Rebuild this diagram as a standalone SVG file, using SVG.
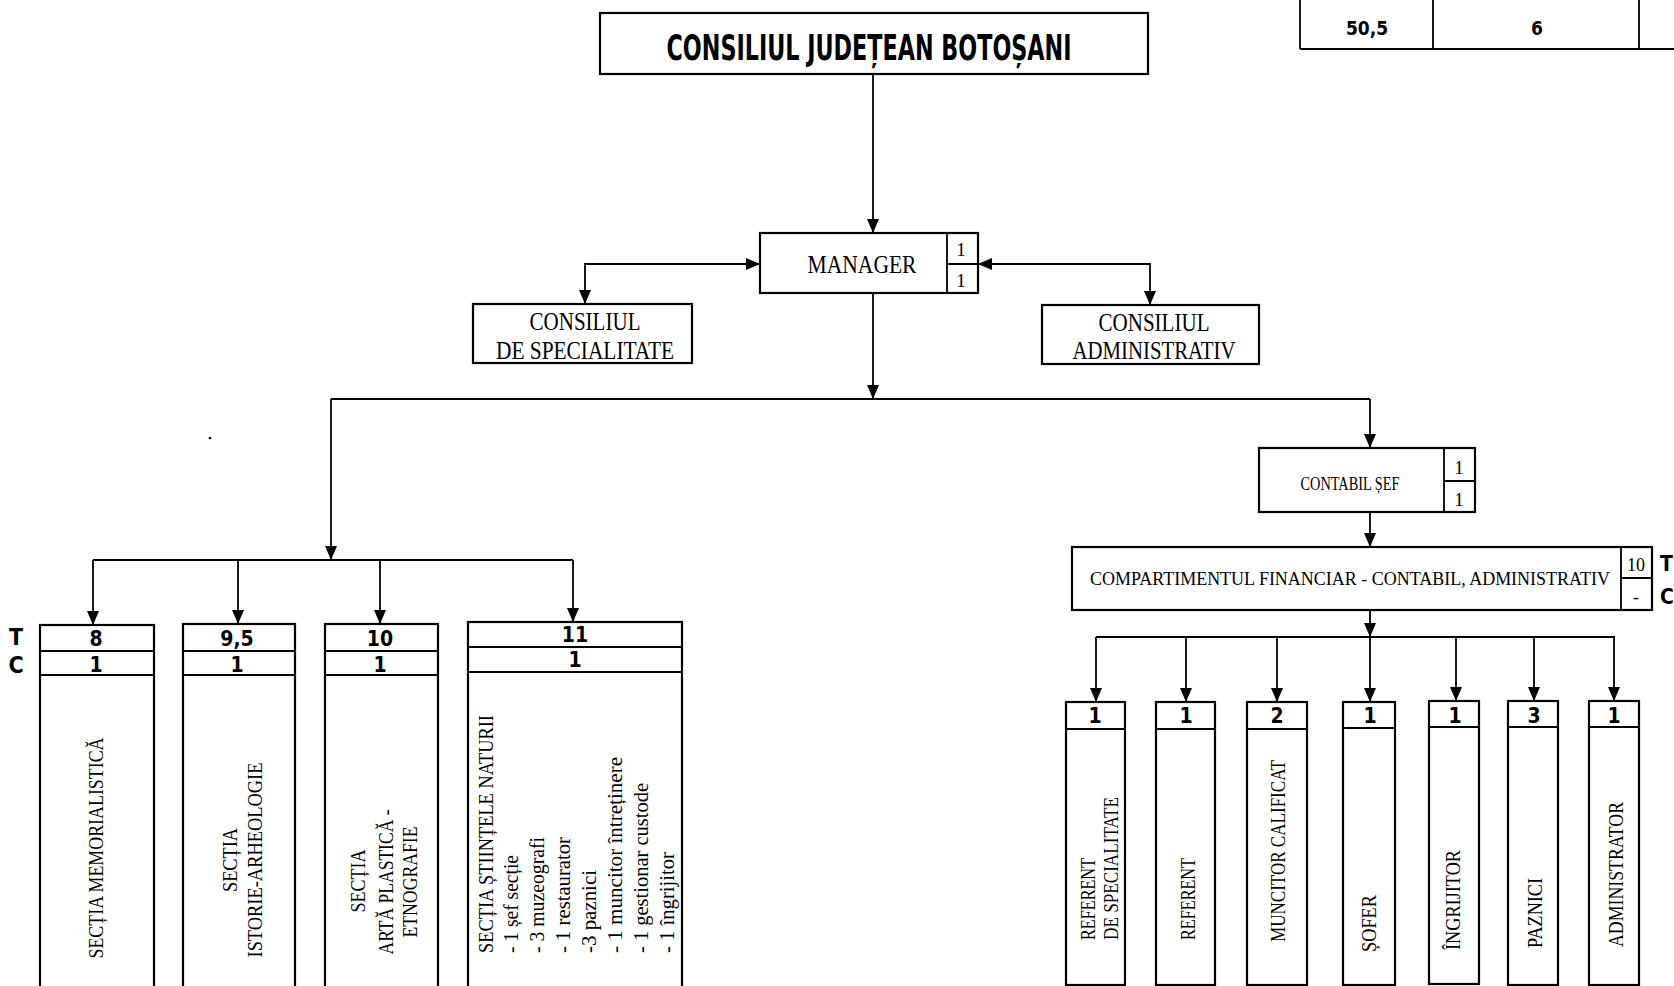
<svg xmlns="http://www.w3.org/2000/svg" width="1674" height="986" viewBox="0 0 1674 986">
<style>
.box{fill:#fff;stroke:#000;stroke-width:2.2}
.ln{fill:none;stroke:#000;stroke-width:1.8}
.cn{fill:none;stroke:#000;stroke-width:1.8}
.b{font-family:"Liberation Sans Narrow","DejaVu Sans Condensed","Liberation Sans",sans-serif;font-weight:bold;fill:#000}
.s{font-family:"Liberation Serif","DejaVu Serif",serif;fill:#000}
</style>
<defs>
<marker id="ah" viewBox="0 0 14 12" refX="14" refY="6" markerWidth="14" markerHeight="12" markerUnits="userSpaceOnUse" orient="auto-start-reverse">
<path d="M0,0 L14,6 L0,12 z" fill="#000"/>
</marker>
</defs>
<rect width="1674" height="986" fill="#fff"/>

<g id="table-top">
<path class="ln" d="M1300,0 V49 M1433,0 V49 M1639,0 V49 M1300,49 H1674"/>
<text class="b" x="1367" y="35" font-size="19" text-anchor="middle">50,5</text>
<text class="b" x="1537" y="35" font-size="19" text-anchor="middle">6</text>
</g>

<g id="consiliul-judetean">
<rect class="box" x="600" y="13" width="548" height="61" stroke-width="2.6"/>
<text class="b" x="869" y="60" font-size="36" text-anchor="middle" textLength="405" lengthAdjust="spacingAndGlyphs">CONSILIUL JUDEȚEAN BOTOȘANI</text>
</g>

<g id="manager">
<rect class="box" x="760" y="233" width="218" height="60"/>
<path class="ln" d="M947,233 V293 M947,264 H978"/>
<text class="s" x="862" y="273" font-size="26" text-anchor="middle" textLength="109" lengthAdjust="spacingAndGlyphs">MANAGER</text>
<text class="s" x="961" y="256" font-size="19" text-anchor="middle">1</text>
<text class="s" x="961" y="287" font-size="19" text-anchor="middle">1</text>
</g>

<g id="consiliul-specialitate">
<rect class="box" x="473" y="304" width="219" height="59"/>
<text class="s" x="585" y="330" font-size="25" text-anchor="middle" textLength="111" lengthAdjust="spacingAndGlyphs">CONSILIUL</text>
<text class="s" x="585" y="359" font-size="25" text-anchor="middle" textLength="178" lengthAdjust="spacingAndGlyphs">DE SPECIALITATE</text>
</g>

<g id="consiliul-administrativ">
<rect class="box" x="1042" y="305" width="217" height="59"/>
<text class="s" x="1154" y="331" font-size="25" text-anchor="middle" textLength="111" lengthAdjust="spacingAndGlyphs">CONSILIUL</text>
<text class="s" x="1154" y="359" font-size="25" text-anchor="middle" textLength="163" lengthAdjust="spacingAndGlyphs">ADMINISTRATIV</text>
</g>

<g id="contabil-sef">
<rect class="box" x="1259" y="448" width="216" height="64"/>
<path class="ln" d="M1444,448 V512 M1444,481 H1475"/>
<text class="s" x="1350" y="490" font-size="19" text-anchor="middle" textLength="99" lengthAdjust="spacingAndGlyphs">CONTABIL ȘEF</text>
<text class="s" x="1459" y="474" font-size="19" text-anchor="middle">1</text>
<text class="s" x="1459" y="506" font-size="19" text-anchor="middle">1</text>
</g>

<g id="compartiment">
<rect class="box" x="1072" y="547" width="580" height="63"/>
<path class="ln" d="M1621,547 V610 M1621,578 H1652"/>
<text class="s" x="1350" y="585" font-size="19" text-anchor="middle" textLength="520" lengthAdjust="spacingAndGlyphs">COMPARTIMENTUL FINANCIAR - CONTABIL, ADMINISTRATIV</text>
<text class="s" x="1636" y="571" font-size="18" text-anchor="middle">10</text>
<text class="s" x="1636" y="603" font-size="18" text-anchor="middle">-</text>
<text class="b" x="1660" y="571" font-size="21">T</text>
<text class="b" x="1660" y="604" font-size="21">C</text>
</g>

<g id="legend-tc">
<text class="b" x="16" y="645" font-size="23" text-anchor="middle">T</text>
<text class="b" x="16" y="673" font-size="23" text-anchor="middle">C</text>
</g>

<g id="sectia-memorialistica">
<rect class="box" x="40" y="625" width="114" height="370"/>
<path class="ln" d="M40,651 H154 M40,675 H154"/>
<text class="b" x="96" y="646" font-size="21" text-anchor="middle">8</text>
<text class="b" x="96" y="672" font-size="21" text-anchor="middle">1</text>
<text class="s" font-size="20" text-anchor="middle" transform="translate(103 848) rotate(-90)" textLength="221" lengthAdjust="spacingAndGlyphs">SECȚIA MEMORIALISTICĂ</text>
</g>

<g id="sectia-istorie">
<rect class="box" x="183" y="624" width="112" height="371"/>
<path class="ln" d="M183,651 H295 M183,675 H295"/>
<text class="b" x="237" y="646" font-size="21" text-anchor="middle">9,5</text>
<text class="b" x="237" y="672" font-size="21" text-anchor="middle">1</text>
<text class="s" font-size="20" text-anchor="middle" transform="translate(237 860) rotate(-90)" textLength="64" lengthAdjust="spacingAndGlyphs">SECȚIA</text>
<text class="s" font-size="20" text-anchor="middle" transform="translate(262 860) rotate(-90)" textLength="195" lengthAdjust="spacingAndGlyphs">ISTORIE-ARHEOLOGIE</text>
</g>

<g id="sectia-arta">
<rect class="box" x="325" y="624" width="113" height="371"/>
<path class="ln" d="M325,651 H438 M325,675 H438"/>
<text class="b" x="380" y="646" font-size="21" text-anchor="middle">10</text>
<text class="b" x="380" y="672" font-size="21" text-anchor="middle">1</text>
<text class="s" font-size="20" text-anchor="middle" transform="translate(365 881) rotate(-90)" textLength="63" lengthAdjust="spacingAndGlyphs">SECȚIA</text>
<text class="s" font-size="20" text-anchor="middle" transform="translate(393 882) rotate(-90)" textLength="145" lengthAdjust="spacingAndGlyphs">ARTĂ PLASTICĂ -</text>
<text class="s" font-size="20" text-anchor="middle" transform="translate(417 882) rotate(-90)" textLength="111" lengthAdjust="spacingAndGlyphs">ETNOGRAFIE</text>
</g>

<g id="sectia-stiinte">
<rect class="box" x="468" y="622" width="214" height="373" stroke-width="2.6"/>
<path class="ln" d="M468,647 H682 M468,672 H682"/>
<text class="b" x="575" y="642" font-size="21" text-anchor="middle">11</text>
<text class="b" x="575" y="667" font-size="21" text-anchor="middle">1</text>
<text class="s" font-size="20" transform="translate(493 953) rotate(-90)" textLength="238" lengthAdjust="spacingAndGlyphs">SECȚIA ȘTIINȚELE NATURII</text>
<text class="s" font-size="20" transform="translate(518 953) rotate(-90)" textLength="98" lengthAdjust="spacingAndGlyphs">- 1 șef secție</text>
<text class="s" font-size="20" transform="translate(544 953) rotate(-90)" textLength="116" lengthAdjust="spacingAndGlyphs">- 3 muzeografi</text>
<text class="s" font-size="20" transform="translate(570 953) rotate(-90)" textLength="116" lengthAdjust="spacingAndGlyphs">- 1 restaurator</text>
<text class="s" font-size="20" transform="translate(596 953) rotate(-90)" textLength="83" lengthAdjust="spacingAndGlyphs">-3 paznici</text>
<text class="s" font-size="20" transform="translate(622 953) rotate(-90)" textLength="196" lengthAdjust="spacingAndGlyphs">- 1 muncitor întreținere</text>
<text class="s" font-size="20" transform="translate(648 953) rotate(-90)" textLength="170" lengthAdjust="spacingAndGlyphs">- 1 gestionar custode</text>
<text class="s" font-size="20" transform="translate(674 953) rotate(-90)" textLength="101" lengthAdjust="spacingAndGlyphs">- 1 îngrijitor</text>
</g>

<g id="referent-specialitate">
<rect class="box" x="1066" y="702" width="59" height="283"/>
<path class="ln" d="M1066,729 H1125"/>
<text class="b" x="1095" y="723" font-size="21" text-anchor="middle">1</text>
<text class="s" font-size="20" transform="translate(1095 940) rotate(-90)" textLength="82" lengthAdjust="spacingAndGlyphs">REFERENT</text>
<text class="s" font-size="20" transform="translate(1118 940) rotate(-90)" textLength="143" lengthAdjust="spacingAndGlyphs">DE SPECIALITATE</text>
</g>

<g id="referent">
<rect class="box" x="1156" y="702" width="59" height="283"/>
<path class="ln" d="M1156,729 H1215"/>
<text class="b" x="1186" y="723" font-size="21" text-anchor="middle">1</text>
<text class="s" font-size="20" transform="translate(1195 940) rotate(-90)" textLength="82" lengthAdjust="spacingAndGlyphs">REFERENT</text>
</g>

<g id="muncitor-calificat">
<rect class="box" x="1247" y="702" width="60" height="283"/>
<path class="ln" d="M1247,729 H1307"/>
<text class="b" x="1277" y="723" font-size="21" text-anchor="middle">2</text>
<text class="s" font-size="20" transform="translate(1285 942) rotate(-90)" textLength="182" lengthAdjust="spacingAndGlyphs">MUNCITOR CALIFICAT</text>
</g>

<g id="sofer">
<rect class="box" x="1343" y="702" width="52" height="283"/>
<path class="ln" d="M1343,728 H1395"/>
<text class="b" x="1370" y="723" font-size="21" text-anchor="middle">1</text>
<text class="s" font-size="20" transform="translate(1376 952) rotate(-90)" textLength="57" lengthAdjust="spacingAndGlyphs">ȘOFER</text>
</g>

<g id="ingrijitor">
<rect class="box" x="1429" y="701" width="50" height="283"/>
<path class="ln" d="M1429,727 H1479"/>
<text class="b" x="1455" y="723" font-size="21" text-anchor="middle">1</text>
<text class="s" font-size="20" transform="translate(1460 950) rotate(-90)" textLength="100" lengthAdjust="spacingAndGlyphs">ÎNGRIJITOR</text>
</g>

<g id="paznici">
<rect class="box" x="1508" y="701" width="50" height="284"/>
<path class="ln" d="M1508,727 H1558"/>
<text class="b" x="1534" y="723" font-size="21" text-anchor="middle">3</text>
<text class="s" font-size="20" transform="translate(1542 948) rotate(-90)" textLength="70" lengthAdjust="spacingAndGlyphs">PAZNICI</text>
</g>

<g id="administrator">
<rect class="box" x="1589" y="701" width="50" height="284"/>
<path class="ln" d="M1589,727 H1639"/>
<text class="b" x="1614" y="723" font-size="21" text-anchor="middle">1</text>
<text class="s" font-size="20" transform="translate(1623 947) rotate(-90)" textLength="145" lengthAdjust="spacingAndGlyphs">ADMINISTRATOR</text>
</g>

<g id="connectors">
<path class="cn" d="M873,74 V233" marker-end="url(#ah)"/>
<path class="cn" d="M760,264 H585 V304" marker-start="url(#ah)" marker-end="url(#ah)"/>
<path class="cn" d="M978,264 H1150 V305" marker-start="url(#ah)" marker-end="url(#ah)"/>
<path class="cn" d="M873,293 V399" marker-end="url(#ah)"/>
<path class="cn" d="M331,399 H1370"/>
<path class="cn" d="M331,399 V560" marker-end="url(#ah)"/>
<path class="cn" d="M93,560 H573"/>
<path class="cn" d="M93,560 V625" marker-end="url(#ah)"/>
<path class="cn" d="M238,560 V624" marker-end="url(#ah)"/>
<path class="cn" d="M380,560 V624" marker-end="url(#ah)"/>
<path class="cn" d="M573,560 V622" marker-end="url(#ah)"/>
<path class="cn" d="M1370,399 V448" marker-end="url(#ah)"/>
<path class="cn" d="M1370,512 V547" marker-end="url(#ah)"/>
<path class="cn" d="M1370,610 V637" marker-end="url(#ah)"/>
<path class="cn" d="M1096,637 H1615"/>
<path class="cn" d="M1096,637 V702" marker-end="url(#ah)"/>
<path class="cn" d="M1186,637 V702" marker-end="url(#ah)"/>
<path class="cn" d="M1277,637 V702" marker-end="url(#ah)"/>
<path class="cn" d="M1370,637 V702" marker-end="url(#ah)"/>
<path class="cn" d="M1456,637 V701" marker-end="url(#ah)"/>
<path class="cn" d="M1534,637 V701" marker-end="url(#ah)"/>
<path class="cn" d="M1614,637 V701" marker-end="url(#ah)"/>
</g>
<circle cx="210" cy="438" r="1.3" fill="#000"/>
</svg>
